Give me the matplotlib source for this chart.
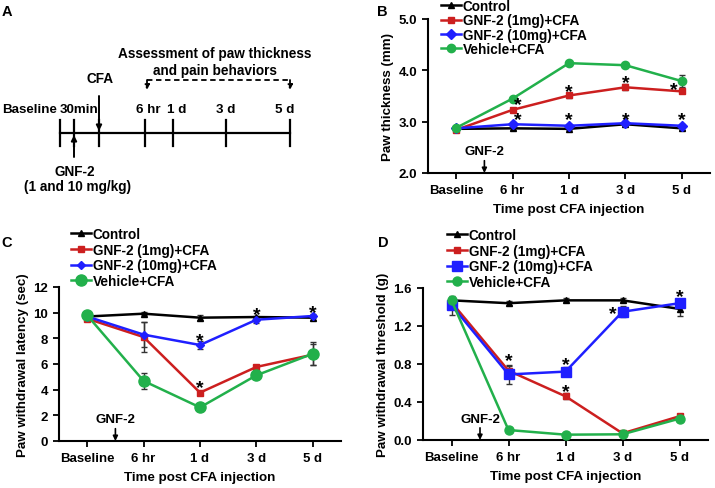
import matplotlib
matplotlib.use("Agg")
from matplotlib import pyplot as plt
from matplotlib import transforms

plt.rcParams["font.family"] = ["Liberation Sans", "DejaVu Sans"]
plt.rcParams["font.weight"] = "bold"
plt.rcParams["axes.labelweight"] = "bold"

# ---- data ----
times = ["Baseline", "6 hr", "1 d", "3 d", "5 d"]
groups = ["Control", "GNF-2 (1mg)+CFA", "GNF-2 (10mg)+CFA", "Vehicle+CFA"]

# B: paw thickness (mm)
b_ctrl = [2.86, 2.87, 2.86, 2.95, 2.87]
b_ctrl_err = [0.03, 0.03, 0.03, 0.03, 0.04]
b_1mg = [2.84, 3.23, 3.51, 3.67, 3.59]
b_1mg_err = [0.02, 0.03, 0.04, 0.06, 0.04]
b_10mg = [2.87, 2.95, 2.92, 2.97, 2.92]
b_10mg_err = [0.03, 0.04, 0.04, 0.04, 0.04]
b_veh = [2.88, 3.45, 4.14, 4.10, 3.79]
b_veh_err = [0.02, 0.03, 0.02, 0.02, 0.12]
b_stars = [(1.1, 3.33), (1.1, 3.05), (2, 3.59), (2, 3.05), (3, 3.76), (3, 3.05), (3.85, 3.62), (4, 3.05)]

# C: paw withdrawal latency (sec)
c_ctrl = [9.70, 9.92, 9.61, 9.66, 9.61]
c_ctrl_err = [0.15, 0.10, 0.20, 0.10, 0.15]
c_1mg = [9.53, 8.10, 3.77, 5.77, 6.73]
c_1mg_err = [0.20, 1.20, 0.15, 0.10, 0.80]
c_10mg = [9.70, 8.29, 7.48, 9.45, 9.74]
c_10mg_err = [0.20, 1.00, 0.30, 0.25, 0.15]
c_veh = [9.79, 4.68, 2.62, 5.12, 6.80]
c_veh_err = [0.20, 0.60, 0.10, 0.10, 0.90]
c_stars = [(2, 7.85), (2, 4.15), (3, 9.85), (4, 10.0)]

# D: paw withdrawal threshold (g)
d_ctrl = [1.47, 1.44, 1.47, 1.47, 1.38]
d_ctrl_err = [0.02, 0.02, 0.02, 0.02, 0.07]
d_1mg = [1.45, 0.73, 0.46, 0.07, 0.25]
d_1mg_err = [0.03, 0.05, 0.03, 0.01, 0.02]
d_10mg = [1.42, 0.69, 0.72, 1.35, 1.44]
d_10mg_err = [0.10, 0.10, 0.05, 0.06, 0.04]
d_veh = [1.47, 0.105, 0.056, 0.06, 0.225]
d_veh_err = [0.02, 0.01, 0.01, 0.01, 0.03]
d_stars = [(1, 0.84), (2, 0.79), (2, 0.51), (2.83, 1.33), (4, 1.51)]

BLACK = "black"
RED = "#cc1f1f"
BLUE = "#1f1fff"
GREEN = "#22b04b"

W, H = 715, 489
fig = plt.figure(figsize=(W / 100, H / 100), dpi=100)


def px_axes(left, top, right, bottom):
    return fig.add_axes([left / W, 1 - bottom / H, (right - left) / W, (bottom - top) / H])


def draw_panel(ax, series, ylim, yticks, fmt, ylabel, stars, legend_at, ms, spacing):
    x = range(len(times))
    styles = [
        (BLACK, "^", ms[0]),
        (RED, "s", ms[1]),
        (BLUE, ms[4], ms[2]),
        (GREEN, "o", ms[3]),
    ]
    handles = []
    for (y, err), (col, mk, size), name in zip(series, styles, groups):
        ax.errorbar(x, y, yerr=err, fmt="none", ecolor="#333333", elinewidth=1, capsize=2, capthick=1, zorder=2)
        (h,) = ax.plot(x, y, color=col, marker=mk, markersize=size, lw=1.8, label=name, zorder=3)
        handles.append(h)
    for sx, sy in stars:
        ax.text(sx, sy, "*", ha="center", va="center", fontsize=14, fontweight="bold", zorder=4)

    ax.set_xlim(-0.5, 4.5)
    ax.set_ylim(*ylim)
    ax.set_yticks(yticks)
    ax.set_yticklabels([fmt.format(v) for v in yticks])
    ax.set_xticks(list(x))
    ax.set_xticklabels(times)
    ax.tick_params(labelsize=9.5, width=1.3, length=4, direction="out", pad=4)
    for s in ["top", "right"]:
        ax.spines[s].set_visible(False)
    for s in ["left", "bottom"]:
        ax.spines[s].set_linewidth(1.5)
    ax.set_xlabel("Time post CFA injection", fontsize=9.6, labelpad=5)
    ax.set_ylabel(ylabel, fontsize=9.6, labelpad=3)

    # GNF-2 injection marker between baseline and 6 hr
    trans = transforms.blended_transform_factory(ax.transData, ax.transAxes)
    ax.text(0.5, 0.14, "GNF-2", transform=trans, ha="center", va="center", fontsize=9.5)
    ax.annotate("", xy=(0.5, 0.0), xytext=(0.5, 0.08), xycoords=trans, textcoords=trans,
                arrowprops=dict(arrowstyle="-|>", color="black", lw=1.2, mutation_scale=7, shrinkA=0, shrinkB=0))

    fig.legend(handles=handles, loc="upper left", bbox_to_anchor=(legend_at[0] / W, 1 - legend_at[1] / H),
               frameon=False, fontsize=9.8, handlelength=1.5, handletextpad=0.1, labelspacing=spacing,
               borderpad=0, borderaxespad=0, numpoints=1)


# ---- panel B ----
axB = px_axes(428, 20, 710, 174)
draw_panel(axB, [(b_ctrl, b_ctrl_err), (b_1mg, b_1mg_err), (b_10mg, b_10mg_err), (b_veh, b_veh_err)],
           (2.0, 5.0), [2.0, 3.0, 4.0, 5.0], "{:.1f}", "Paw thickness (mm)", b_stars, (441, 0),
           [5, 5, 5, 6, "D"], 0.02)

# ---- panel C ----
axC = px_axes(59, 288, 341, 442)
draw_panel(axC, [(c_ctrl, c_ctrl_err), (c_1mg, c_1mg_err), (c_10mg, c_10mg_err), (c_veh, c_veh_err)],
           (0, 12), [0, 2, 4, 6, 8, 10, 12], "{:d}", "Paw withdrawal latency (sec)", c_stars, (71, 228),
           [5, 5, 4.5, 8, "D"], 0.12)

# ---- panel D ----
axD = px_axes(423, 289, 708, 441)
draw_panel(axD, [(d_ctrl, d_ctrl_err), (d_1mg, d_1mg_err), (d_10mg, d_10mg_err), (d_veh, d_veh_err)],
           (0.0, 1.6), [0.0, 0.4, 0.8, 1.2, 1.6], "{:.1f}", "Paw withdrawal threshold (g)", d_stars, (447, 229),
           [5, 5, 7.5, 6.5, "s"], 0.12)

# ---- panel A: experimental timeline ----
axA = fig.add_axes([0, 0.5, 0.5, 0.5])
axA.set_xlim(0, W / 2)
axA.set_ylim(H / 2, 0)
axA.axis("off")

line_y = 134
tick_x = [60, 74, 99, 145, 173, 226, 290]
axA.plot([tick_x[0], tick_x[-1]], [line_y, line_y], color="black", lw=1.6)
for tx in tick_x:
    axA.plot([tx, tx], [121, 147], color="black", lw=1.6)

timeline_labels = [("Baseline", 30), ("30min", 79), ("6 hr", 148), ("1 d", 177), ("3 d", 226), ("5 d", 285)]
for lab, lx in timeline_labels:
    axA.text(lx, 110, lab, ha="center", va="center", fontsize=9.6)

arrow = dict(arrowstyle="-|>", color="black", lw=1.4, mutation_scale=8, shrinkA=0, shrinkB=0)
axA.annotate("", xy=(74, 136), xytext=(74, 158), arrowprops=arrow)
axA.annotate("", xy=(99, 132), xytext=(99, 97), arrowprops=arrow)
axA.text(100, 79, "CFA", ha="center", va="center", fontsize=9.8)
axA.text(75, 172, "GNF-2", ha="center", va="center", fontsize=9.8)
axA.text(77, 187, "(1 and 10 mg/kg)", ha="center", va="center", fontsize=9.8)
axA.text(215, 54, "Assessment of paw thickness", ha="center", va="center", fontsize=9.8)
axA.text(215, 71, "and pain behaviors", ha="center", va="center", fontsize=9.8)

axA.plot([147, 290], [81, 81], color="black", lw=1.3, ls=(0, (3, 2)))
dash_arrow = dict(arrowstyle="-|>", color="black", lw=1.3, ls=(0, (3, 2)), mutation_scale=7, shrinkA=0, shrinkB=0)
axA.annotate("", xy=(147, 91), xytext=(147, 81), arrowprops=dash_arrow)
axA.annotate("", xy=(290, 91), xytext=(290, 81), arrowprops=dash_arrow)

# panel letters
for letter, lx, ly in [("A", 7, 12), ("B", 382, 12), ("C", 7, 243), ("D", 383, 243)]:
    fig.text(lx / W, 1 - ly / H, letter, ha="center", va="center", fontsize=10.5, fontweight="bold")

fig.savefig("out.png", dpi=100)
